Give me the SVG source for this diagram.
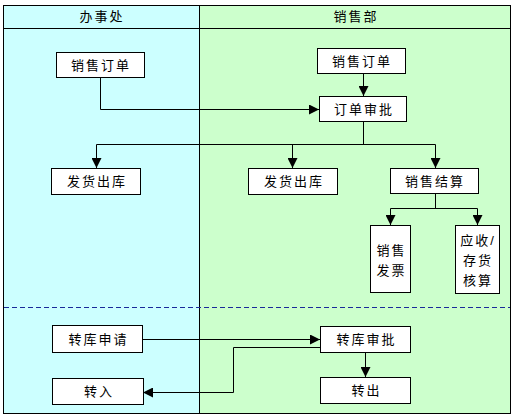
<svg xmlns="http://www.w3.org/2000/svg" width="512" height="420" viewBox="0 0 512 420">
<style>
.box{fill:#fff;stroke:#000;stroke-width:1}
.t{font-family:"Liberation Sans","Noto Sans CJK SC",sans-serif;font-size:13px;letter-spacing:2px;text-anchor:middle;fill:#000}
.ln{fill:none;stroke:#000;stroke-width:1}
</style>
<defs>
<marker id="ah" markerUnits="userSpaceOnUse" markerWidth="10" markerHeight="10" refX="10" refY="5" orient="auto">
<path d="M0,0 L10,5 L0,10 z" fill="#000"/>
</marker>
</defs>
<g id="lanes">
<rect x="3.5" y="5.5" width="196" height="408" fill="#CCFFFF" stroke="#000"/>
<rect x="199.5" y="5.5" width="311" height="408" fill="#CCFFCC" stroke="#000"/>
<line x1="3.5" y1="28.5" x2="510.5" y2="28.5" stroke="#000"/>
<text class="t" x="102" y="21">办事处</text>
<text class="t" x="356" y="21">销售部</text>
<line x1="4" y1="307.5" x2="510" y2="307.5" stroke="#1a2a9a" stroke-dasharray="5,3"/>
</g>
<g id="connectors">
<polyline class="ln" points="100.5,77 100.5,109.5 319,109.5" marker-end="url(#ah)"/>
<line class="ln" x1="363.5" y1="73" x2="363.5" y2="96" marker-end="url(#ah)"/>
<polyline class="ln" points="363.5,121 363.5,144.5"/>
<line class="ln" x1="96.5" y1="144.5" x2="435.5" y2="144.5"/>
<line class="ln" x1="96.5" y1="144.5" x2="96.5" y2="168" marker-end="url(#ah)"/>
<line class="ln" x1="292.5" y1="144.5" x2="292.5" y2="168" marker-end="url(#ah)"/>
<line class="ln" x1="435.5" y1="144.5" x2="435.5" y2="168" marker-end="url(#ah)"/>
<line class="ln" x1="435.5" y1="193" x2="435.5" y2="208.5"/>
<line class="ln" x1="390.5" y1="208.5" x2="477.5" y2="208.5"/>
<line class="ln" x1="390.5" y1="208.5" x2="390.5" y2="225" marker-end="url(#ah)"/>
<line class="ln" x1="477.5" y1="208.5" x2="477.5" y2="225" marker-end="url(#ah)"/>
<line class="ln" x1="142" y1="339.5" x2="320" y2="339.5" marker-end="url(#ah)"/>
<polyline class="ln" points="320,347.5 233.5,347.5 233.5,392.5 143,392.5" marker-end="url(#ah)"/>
<line class="ln" x1="365.5" y1="352" x2="365.5" y2="377" marker-end="url(#ah)"/>
</g>
<g id="n1"><rect class="box" x="56.5" y="52.5" width="88" height="25"/><text class="t" x="101" y="69.5">销售订单</text></g>
<g id="n2"><rect class="box" x="51.5" y="168.5" width="89" height="26"/><text class="t" x="97" y="186">发货出库</text></g>
<g id="n3"><rect class="box" x="317.5" y="48.5" width="88" height="25"/><text class="t" x="362" y="65.5">销售订单</text></g>
<g id="n4"><rect class="box" x="319.5" y="96.5" width="87" height="25"/><text class="t" x="364" y="113.5">订单审批</text></g>
<g id="n5"><rect class="box" x="248.5" y="168.5" width="89" height="26"/><text class="t" x="294" y="186">发货出库</text></g>
<g id="n6"><rect class="box" x="390.5" y="168.5" width="88" height="25"/><text class="t" x="435" y="185.5">销售结算</text></g>
<g id="n7"><rect class="box" x="370.5" y="225.5" width="40" height="67"/><text class="t" x="391.5" y="255">销售</text><text class="t" x="391.5" y="275">发票</text></g>
<g id="n8"><rect class="box" x="455.5" y="225.5" width="44" height="68"/><text class="t" x="478" y="245" letter-spacing="0">应收/</text><text class="t" x="478" y="265">存货</text><text class="t" x="478" y="285">核算</text></g>
<g id="n9"><rect class="box" x="52.5" y="325.5" width="90" height="27"/><text class="t" x="98.5" y="343.5">转库申请</text></g>
<g id="n10"><rect class="box" x="52.5" y="378.5" width="91" height="26"/><text class="t" x="99" y="396">转入</text></g>
<g id="n11"><rect class="box" x="320.5" y="326.5" width="90" height="26"/><text class="t" x="366.5" y="344">转库审批</text></g>
<g id="n12"><rect class="box" x="320.5" y="377.5" width="90" height="26"/><text class="t" x="366.5" y="395">转出</text></g>
</svg>
